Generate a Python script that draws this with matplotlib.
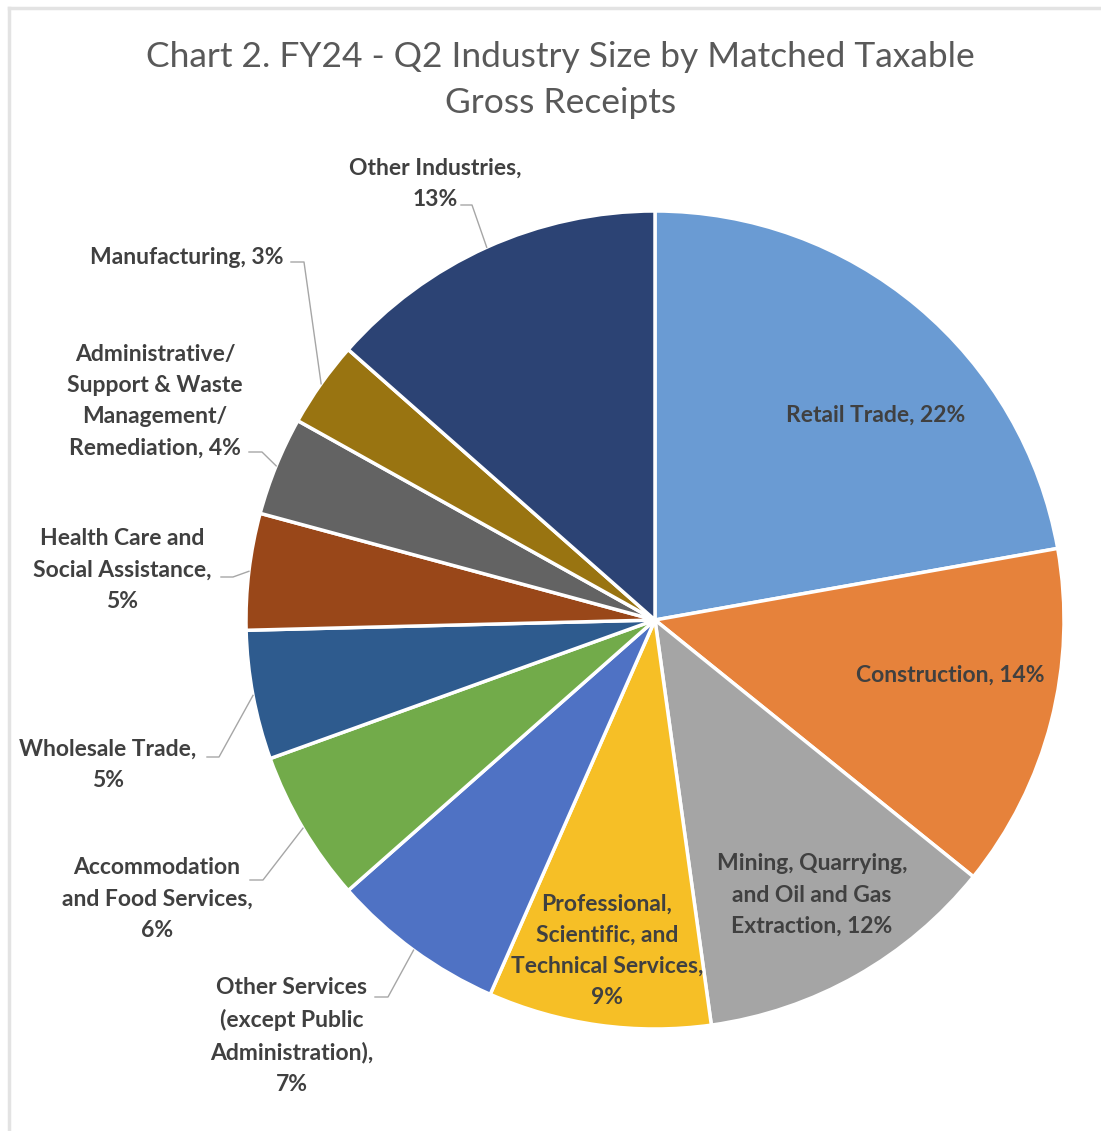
import numpy as np
import matplotlib.pyplot as plt
from matplotlib.lines import Line2D

# =========================
# DATA
# =========================
industries = [
    "Retail Trade", "Construction", "Mining, Quarrying,\nand Oil and Gas\nExtraction",
    "Professional,\nScientific, and\nTechnical Services,", "Other Services\n(except Public\nAdministration),",
    "Accommodation\nand Food Services,", "Wholesale Trade,", "Health Care and\nSocial Assistance,",
    "Administrative/\nSupport & Waste\nManagement/\nRemediation,", "Manufacturing,", "Other Industries,",
]
shares = [22.2, 13.6, 12.0, 8.8, 6.9, 6.0, 5.1, 4.6, 3.9, 3.4, 13.5]
pct_labels = ["22%", "14%", "12%", "9%", "7%", "6%", "5%", "5%", "4%", "3%", "13%"]
colors = ["#6a9bd3", "#e6823b", "#a5a5a5", "#f6bf26", "#4f72c4", "#72ab4a",
          "#2e5b8e", "#994719", "#636363", "#997411", "#2c4374"]

# =========================
# LAYOUT (pixel coords in the 1101x1131 picture)
# =========================
W, H = 1101, 1131
CX, CY, R = 655, 620, 409


def px(x, y):
    return (x - CX) / R, (CY - y) / R


# label centre, separator before pct, leader elbow (None = label inside slice)
label_pos = [
    ((876, 415), " ", None),
    ((950, 675), " ", None),
    ((812, 895), " ", None),
    ((607, 951), "\n", None),
    ((292, 1036), "\n", (375, 997, 388)),
    ((157, 899), "\n", (250, 880, 263)),
    ((108, 765), "\n", (207, 757, 219)),
    ((122, 570), "\n", (221, 577, 233)),
    ((155, 401), " ", (249, 452, 262)),
    ((187, 258), " ", (291, 262, 304)),
    ((435, 184), "\n", (461, 205, 472)),
]

plt.rcParams['font.family'] = ['Lato', 'DejaVu Sans']

fig = plt.figure(figsize=(W / 100, H / 100), dpi=100)
ax = fig.add_axes([0, 0, 1, 1])

wedges, _ = ax.pie(
    shares,
    colors=colors,
    startangle=90,
    counterclock=False,
    radius=1,
    center=(0, 0),
    wedgeprops=dict(edgecolor="white", linewidth=2.5),
)

ax.set_aspect('auto')
ax.set_xlim(px(0, 0)[0], px(W, 0)[0])
ax.set_ylim(px(0, H)[1], px(0, 0)[1])
ax.axis('off')

for w, name, pct, (pos, sep, leader) in zip(wedges, industries, pct_labels, label_pos):
    name = name.rstrip(",")
    txt = name + "," + sep + pct
    tx, ty = px(*pos)
    ax.text(tx, ty, txt, ha="center", va="center", fontsize=16.5, fontweight="bold",
            color="#404040", linespacing=1.6)
    if leader is not None:
        mid = np.deg2rad((w.theta1 + w.theta2) / 2)
        ex, ey = np.cos(mid), np.sin(mid)
        x0, y0 = px(leader[0], leader[1])
        x1, _ = px(leader[2], leader[1])
        ax.plot([x0, x1, ex], [y0, y0, ey], color="#a6a6a6", linewidth=1)

fig.text(0.509, 1 - 80 / H, "Chart 2. FY24 - Q2 Industry Size by Matched Taxable\nGross Receipts",
         ha="center", va="center", fontsize=25.5, color="#595959", linespacing=1.55)

# light frame on top and left edges
fig.add_artist(Line2D([9 / W, 1], [1 - 8 / H, 1 - 8 / H], color="#e3e3e3", linewidth=2.5))
fig.add_artist(Line2D([9 / W, 9 / W], [0, 1 - 8 / H], color="#e3e3e3", linewidth=2.5))

fig.savefig("out.png", dpi=100)
